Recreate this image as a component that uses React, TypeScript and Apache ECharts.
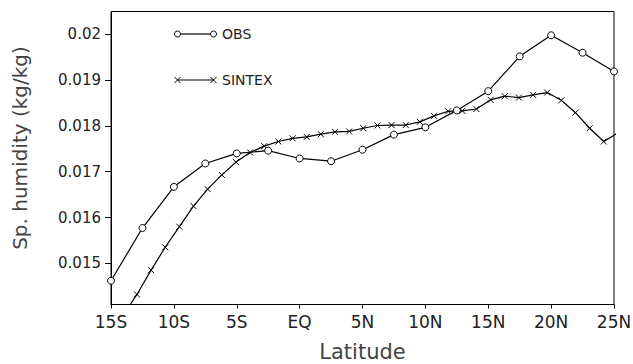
import React, { useEffect, useRef } from "react";
import * as echarts from "echarts";

const latOBS = [-15, -12.5, -10, -7.5, -5, -2.5, 0, 2.5, 5, 7.5, 10, 12.5, 15, 17.5, 20, 22.5, 25];
const obsValues = [
  0.01462, 0.01577, 0.01667, 0.01718, 0.0174, 0.01746, 0.01729, 0.01723, 0.01748,
  0.01781, 0.01797, 0.01834, 0.01876, 0.01952, 0.01998, 0.0196, 0.01919,
];

const latSINTEX = [
  -14.0625, -12.9375, -11.8125, -10.6875, -9.5625, -8.4375, -7.3125, -6.1875, -5.0625,
  -3.9375, -2.8125, -1.6875, -0.5625, 0.5625, 1.6875, 2.8125, 3.9375, 5.0625, 6.1875,
  7.3125, 8.4375, 9.5625, 10.6875, 11.8125, 12.9375, 14.0625, 15.1875, 16.3125, 17.4375,
  18.5625, 19.6875, 20.8125, 21.9375, 23.0625, 24.1875, 25.3125,
];
const sintexValues = [
  0.01385, 0.01432, 0.01485, 0.01535, 0.0158, 0.01625, 0.01662, 0.01693, 0.01721,
  0.01742, 0.01756, 0.01766, 0.01773, 0.01776, 0.01782, 0.01787, 0.01788, 0.01795, 0.01801,
  0.01802, 0.01802, 0.01809, 0.01822, 0.01832, 0.01833, 0.01837, 0.01857, 0.01865, 0.01862,
  0.01868, 0.01873, 0.01856, 0.01829, 0.01795, 0.01766, 0.01785,
];

const yTicks = [0.015, 0.016, 0.017, 0.018, 0.019, 0.02];
const xTickStep = 5;
const seriesNames = ["OBS", "SINTEX"];

const FONT = "DejaVu Sans";
const CROSS = "path://M0,0L10,10M10,0L0,10";

function latLabel(v: number): string {
  if (Math.abs(v) < 1e-9) return "EQ";
  return v < 0 ? `${-v}S` : `${v}N`;
}

export default function App() {
  const ref = useRef<HTMLDivElement>(null);
  useEffect(() => {
    if (!ref.current) return;
    const chart = echarts.init(ref.current, undefined, { renderer: "svg" });
    const obsData = latOBS.map((x, i) => [x, obsValues[i]]);
    const sinData = latSINTEX.map((x, i) => [x, sintexValues[i]]);

    const lx1 = 177.5;
    const lx2 = 213.5;
    const ly1 = 34;
    const ly2 = 80;
    const cr = 3;

    chart.setOption({
      animation: false,
      backgroundColor: "#fff",
      grid: {
        left: 111,
        right: 19,
        top: 11.5,
        bottom: 59.5,
        show: true,
        borderColor: "#000",
        borderWidth: 1,
        containLabel: false,
        outerBoundsMode: "none",
      },
      xAxis: {
        type: "value",
        min: -15,
        max: 25,
        interval: xTickStep,
        name: "Latitude",
        nameLocation: "middle",
        nameGap: 37,
        nameTextStyle: { fontFamily: FONT, fontSize: 21, color: "#444" },
        axisLine: { show: true, onZero: false, lineStyle: { color: "#000", width: 1 } },
        axisTick: { show: true, inside: false, length: 4, lineStyle: { color: "#000" } },
        axisLabel: {
          fontFamily: FONT,
          fontSize: 17,
          color: "#222",
          margin: 9,
          formatter: (v: number) => latLabel(v),
        },
        splitLine: { show: false },
      },
      yAxis: {
        type: "value",
        min: 0.0141,
        max: 0.0205,
        axisLine: { show: true, onZero: false, lineStyle: { color: "#000", width: 1 } },
        axisTick: {
          show: true,
          inside: false,
          length: 6,
          customValues: yTicks,
          lineStyle: { color: "#000" },
        },
        axisLabel: {
          fontFamily: FONT,
          fontSize: 15,
          color: "#222",
          margin: 10,
          customValues: yTicks,
          formatter: (v: number) => String(v),
        },
        splitLine: { show: false },
      },
      series: [
        {
          name: seriesNames[0],
          type: "line",
          data: obsData,
          clip: true,
          symbol: "circle",
          symbolSize: 7,
          itemStyle: { color: "#fff", borderColor: "#000", borderWidth: 1 },
          lineStyle: { color: "#000", width: 1.2 },
          z: 3,
        },
        {
          name: seriesNames[1],
          type: "line",
          data: sinData,
          clip: true,
          symbol: CROSS,
          symbolSize: 6,
          itemStyle: { color: "transparent", borderColor: "#000", borderWidth: 1 },
          lineStyle: { color: "#000", width: 1.2 },
          z: 2,
        },
      ],
      graphic: [
        {
          type: "text",
          x: 20,
          y: 148,
          rotation: Math.PI / 2,
          style: {
            text: "Sp. humidity (kg/kg)",
            fontFamily: FONT,
            fontSize: 20,
            fill: "#444",
            align: "center",
            verticalAlign: "middle",
          },
        },
        // OBS legend
        { type: "line", shape: { x1: lx1 + cr, y1: ly1, x2: lx2 - cr, y2: ly1 }, style: { stroke: "#000", lineWidth: 1.2 } },
        { type: "circle", shape: { cx: lx1, cy: ly1, r: cr }, style: { fill: "#fff", stroke: "#000", lineWidth: 1 } },
        { type: "circle", shape: { cx: lx2, cy: ly1, r: cr }, style: { fill: "#fff", stroke: "#000", lineWidth: 1 } },
        {
          type: "text",
          x: 222,
          y: ly1,
          style: { text: seriesNames[0], fontFamily: FONT, fontSize: 14, fill: "#222", verticalAlign: "middle", align: "left" },
        },
        // SINTEX legend
        { type: "line", shape: { x1: lx1, y1: ly2, x2: lx2, y2: ly2 }, style: { stroke: "#000", lineWidth: 1.2 } },
        { type: "line", shape: { x1: lx1 - 3, y1: ly2 - 3, x2: lx1 + 3, y2: ly2 + 3 }, style: { stroke: "#000", lineWidth: 1 } },
        { type: "line", shape: { x1: lx1 - 3, y1: ly2 + 3, x2: lx1 + 3, y2: ly2 - 3 }, style: { stroke: "#000", lineWidth: 1 } },
        { type: "line", shape: { x1: lx2 - 3, y1: ly2 - 3, x2: lx2 + 3, y2: ly2 + 3 }, style: { stroke: "#000", lineWidth: 1 } },
        { type: "line", shape: { x1: lx2 - 3, y1: ly2 + 3, x2: lx2 + 3, y2: ly2 - 3 }, style: { stroke: "#000", lineWidth: 1 } },
        {
          type: "text",
          x: 222,
          y: ly2,
          style: { text: seriesNames[1], fontFamily: FONT, fontSize: 14, fill: "#222", verticalAlign: "middle", align: "left" },
        },
      ],
    });
    return () => chart.dispose();
  }, []);

  return (
    <div
      ref={ref}
      style={{ position: "absolute", left: 0, top: 0, width: "633px", height: "364px" }}
    />
  );
}
